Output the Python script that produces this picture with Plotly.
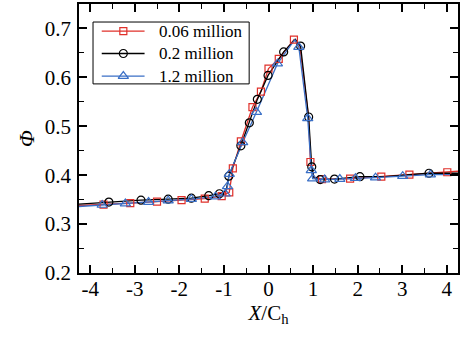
import plotly.graph_objects as go

# ---- data ----
# 0.06 million
red_x = [-4.25, -3.70, -3.10, -2.50, -1.95, -1.43, -1.05, -0.88, -0.80, -0.62, -0.36, -0.17, 0.00, 0.23, 0.57, 0.70, 0.90, 0.94, 1.02, 1.20, 1.83, 2.53, 3.16, 4.01, 4.25]
red_y = [0.338, 0.340, 0.343, 0.346, 0.349, 0.352, 0.357, 0.365, 0.414, 0.469, 0.539, 0.571, 0.618, 0.638, 0.677, 0.665, 0.518, 0.427, 0.396, 0.392, 0.393, 0.397, 0.401, 0.406, 0.408]
red_mk = [0, 1, 1, 1, 1, 1, 1, 1, 1, 1, 1, 1, 1, 1, 1, 0, 0, 1, 0, 1, 1, 1, 1, 1, 0]

# 0.2 million
blk_x = [-4.25, -3.58, -2.86, -2.25, -1.73, -1.34, -1.10, -0.95, -0.89, -0.62, -0.43, -0.25, -0.01, 0.34, 0.60, 0.72, 0.90, 0.97, 1.02, 1.16, 1.48, 2.05, 2.60, 3.01, 3.60, 4.25]
blk_y = [0.341, 0.345, 0.349, 0.351, 0.353, 0.358, 0.362, 0.368, 0.398, 0.460, 0.507, 0.555, 0.604, 0.652, 0.678, 0.664, 0.519, 0.417, 0.395, 0.391, 0.392, 0.397, 0.397, 0.400, 0.404, 0.404]
blk_mk = [0, 1, 1, 1, 1, 1, 1, 0, 1, 1, 1, 1, 1, 1, 0, 1, 1, 1, 0, 1, 1, 1, 0, 0, 1, 0]

# 1.2 million
blu_x = [-4.25, -3.73, -3.21, -2.69, -2.25, -1.73, -1.19, -0.97, -0.92, -0.88, -0.58, -0.27, 0.20, 0.59, 0.68, 0.88, 0.96, 0.99, 1.26, 1.60, 1.95, 2.40, 3.01, 3.63, 4.25]
blu_y = [0.336, 0.339, 0.342, 0.345, 0.348, 0.351, 0.356, 0.362, 0.377, 0.402, 0.467, 0.529, 0.628, 0.677, 0.662, 0.516, 0.410, 0.393, 0.391, 0.392, 0.394, 0.395, 0.398, 0.401, 0.401]
blu_mk = [0, 1, 1, 1, 1, 1, 1, 1, 1, 1, 1, 1, 1, 0, 1, 1, 1, 1, 1, 1, 1, 1, 1, 1, 0]

series_names = ["0.06 million", "0.2 million", "1.2 million"]
x_tick_vals = [-4, -3, -2, -1, 0, 1, 2, 3, 4]
x_tick_text = ["-4", "-3", "-2", "-1", "0", "1", "2", "3", "4"]
y_tick_vals = [0.2, 0.3, 0.4, 0.5, 0.6, 0.7]

# ---- style ----
FONT = "Liberation Serif"
styles = [
    dict(color="#e0302a", symbol="square-open", size=7),
    dict(color="#000000", symbol="circle-open", size=8),
    dict(color="#3a6fc6", symbol="triangle-up-open", size=9),
]
data = [(red_x, red_y, red_mk), (blk_x, blk_y, blk_mk), (blu_x, blu_y, blu_mk)]

fig = go.Figure()
for (xs, ys, mk), st in zip(data, styles):
    fig.add_trace(go.Scatter(x=xs, y=ys, mode="lines", line=dict(color=st["color"], width=1.3),
                             showlegend=False, hoverinfo="skip"))
for (xs, ys, mk), st, nm in zip(data, styles, series_names):
    mx = [x for x, m in zip(xs, mk) if m]
    my = [y for y, m in zip(ys, mk) if m]
    fig.add_trace(go.Scatter(x=mx, y=my, mode="markers", name=nm,
                             marker=dict(symbol=st["symbol"], size=st["size"], color=st["color"],
                                         line=dict(width=1.2, color=st["color"])),
                             showlegend=False))

# ---- legend (drawn in an overlay axis spanning the plot area, 0..1) ----
LEG_BOX = dict(x0=0.037, x1=0.449, y0=0.703, y1=0.933)
LEG_ROWS = [0.899, 0.816, 0.732]
LEG_LINE = (0.060, 0.173)
LEG_MARK = 0.117
LEG_TEXT = 0.205
fig.add_shape(type="rect", xref="paper", yref="paper", layer="below",
              line=dict(color="black", width=1), fillcolor="white", **LEG_BOX)
for name, st, ry in zip(series_names, styles, LEG_ROWS):
    fig.add_trace(go.Scatter(x=list(LEG_LINE), y=[ry, ry], xaxis="x2", yaxis="y2", mode="lines",
                             line=dict(color=st["color"], width=1.3), showlegend=False, hoverinfo="skip"))
    fig.add_trace(go.Scatter(x=[LEG_MARK], y=[ry], xaxis="x2", yaxis="y2", mode="markers",
                             marker=dict(symbol=st["symbol"], size=st["size"], color=st["color"],
                                         line=dict(width=1.2, color=st["color"])),
                             showlegend=False, hoverinfo="skip"))
    fig.add_annotation(x=LEG_TEXT, y=ry, xref="paper", yref="paper", text=name, showarrow=False,
                       xanchor="left", yanchor="middle",
                       font=dict(family=FONT, size=17, color="black"))

axis_common = dict(
    showline=True, linecolor="black", linewidth=1.6, mirror="ticks",
    ticks="inside", ticklen=8, tickwidth=1.5, tickcolor="black",
    showgrid=False, zeroline=False,
    tickfont=dict(family=FONT, size=21, color="black"),
)

fig.update_layout(
    width=461, height=338,
    margin=dict(l=79, r=1, t=4, b=65),
    paper_bgcolor="white", plot_bgcolor="white",
    font=dict(family=FONT, color="black", size=17),
    showlegend=False,
    xaxis=dict(range=[-4.25, 4.25], tickvals=x_tick_vals, ticktext=x_tick_text,
               minor=dict(ticks="inside", ticklen=5, tickwidth=1.2, dtick=0.5, tick0=0, tickcolor="black"),
               title=dict(text="<i>X</i>/C<sub>h</sub>", font=dict(family=FONT, size=21, color="black"), standoff=2),
               ticklabelstandoff=-4,
               **axis_common),
    yaxis=dict(range=[0.2, 0.75], tickvals=y_tick_vals, tickformat=".1f",
               minor=dict(ticks="inside", ticklen=5, tickwidth=1.2, dtick=0.05, tick0=0, tickcolor="black"),
               title=dict(text="<i>Φ</i>", font=dict(family=FONT, size=22, color="black"), standoff=4),
               ticklabelstandoff=2,
               **axis_common),
    xaxis2=dict(range=[0, 1], overlaying="x", anchor="y2", visible=False, fixedrange=True),
    yaxis2=dict(range=[0, 1], overlaying="y", anchor="x2", visible=False, fixedrange=True),
)

fig.write_html("out.html")
